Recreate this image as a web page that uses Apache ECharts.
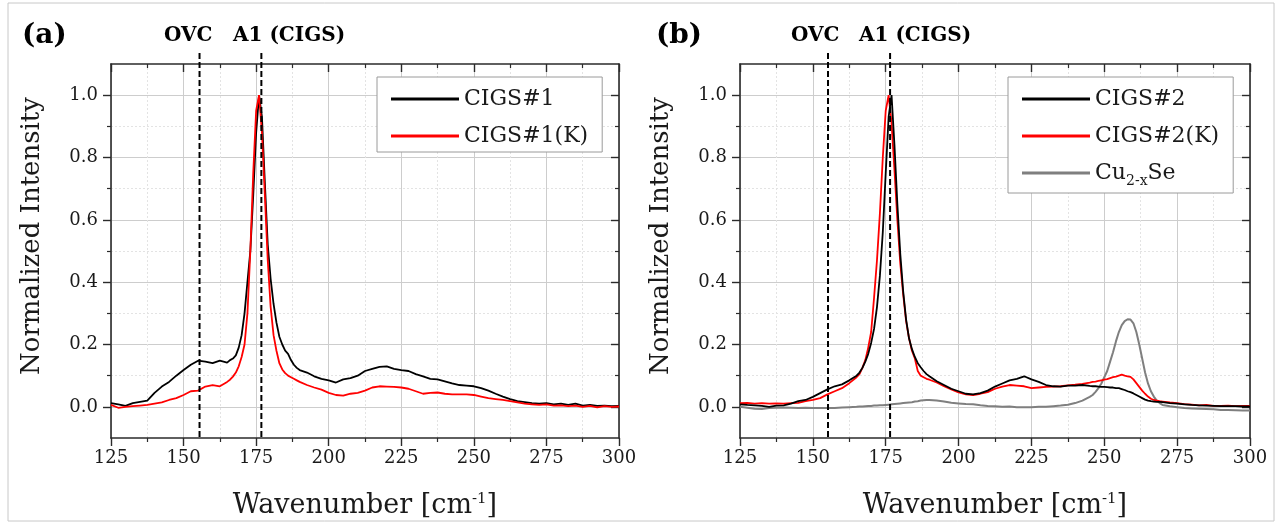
<!DOCTYPE html>
<html><head><meta charset="utf-8">
<script src="https://cdn.jsdelivr.net/npm/echarts@6/dist/echarts.min.js"></script>
<style>html,body{margin:0;padding:0;background:#fff}#c{width:1278px;height:524px}</style>
</head><body><div id="c"></div>
<script>
// ---------- data (panel a) ----------
const xA = [125,127.5,130,132.5,135,137.5,140,142.5,145,147.5,150,152.5,155,157.5,160,162.5,165,
  166,167,168,169,170,171,172,173,174,175,176,177,178,179,180,181,182,183,184,185,186,187,188,189,190,
  192.5,195,197.5,200,202.5,205,207.5,210,212.5,215,217.5,220,222.5,225,227.5,230,232.5,235,237.5,240,
  242.5,245,247.5,250,252.5,255,257.5,260,262.5,265,267.5,270,272.5,275,277.5,280,282.5,285,287.5,290,
  292.5,295,297.5,300];
const cigs1 = [0.012,0.008,0.003,0.012,0.016,0.02,0.045,0.065,0.08,0.1,0.118,0.135,0.148,0.145,0.14,0.148,0.142,
  0.15,0.155,0.165,0.19,0.23,0.30,0.40,0.50,0.68,0.88,1.0,0.93,0.72,0.52,0.41,0.33,0.27,0.225,0.2,0.18,0.17,0.15,0.135,0.125,0.118,
  0.11,0.098,0.09,0.085,0.078,0.088,0.092,0.1,0.115,0.122,0.128,0.13,0.122,0.118,0.115,0.105,0.098,0.09,0.088,0.082,
  0.075,0.07,0.068,0.066,0.06,0.052,0.042,0.033,0.025,0.018,0.015,0.012,0.01,0.012,0.008,0.01,0.006,0.01,0.004,0.006,
  0.003,0.004,0.002,0.003];
const cigs1K = [0.006,-0.003,0.0,0.002,0.004,0.006,0.01,0.014,0.022,0.028,0.038,0.05,0.052,0.065,0.07,0.066,0.08,
  0.087,0.097,0.11,0.13,0.16,0.2,0.3,0.5,0.75,0.95,1.0,0.88,0.68,0.47,0.32,0.23,0.18,0.14,0.12,0.108,0.1,0.095,0.09,0.085,0.08,
  0.07,0.062,0.055,0.045,0.038,0.036,0.042,0.045,0.052,0.062,0.066,0.065,0.064,0.062,0.058,0.05,0.042,0.045,0.046,0.042,
  0.04,0.04,0.04,0.038,0.033,0.028,0.025,0.022,0.018,0.014,0.01,0.008,0.006,0.008,0.004,0.005,0.002,0.004,0.0,0.003,
  -0.002,0.002,0.0,0.001];
// ---------- data (panel b) ----------
const xB = [125,127.5,130,132.5,135,137.5,140,142.5,145,147.5,150,152.5,155,157.5,160,162.5,165,
  166,167,168,169,170,171,172,173,174,175,176,177,178,179,180,181,182,183,184,185,186,187,188,189,190,
  192.5,195,197.5,200,202.5,205,207.5,210,212.5,215,217.5,220,222.5,225,227.5,230,232.5,235,237.5,240,242.5,245,
  246,247,248,249,250,251,252,253,254,255,256,257,258,259,260,261,262,263,264,265,266,267,268,269,270,
  272.5,275,277.5,280,282.5,285,287.5,290,292.5,295,297.5,300];
const cigs2 = [0.008,0.006,0.005,0.003,0.0,0.004,0.005,0.01,0.018,0.022,0.032,0.044,0.056,0.066,0.072,0.085,0.1,
  0.11,0.125,0.145,0.17,0.205,0.25,0.32,0.42,0.56,0.75,0.93,1.0,0.84,0.65,0.49,0.37,0.28,0.22,0.185,0.16,0.14,0.127,0.115,0.105,0.098,
  0.082,0.07,0.058,0.05,0.042,0.04,0.044,0.052,0.065,0.075,0.085,0.09,0.098,0.088,0.08,0.07,0.066,0.065,0.068,0.068,0.07,0.067,
  0.066,0.066,0.065,0.064,0.064,0.063,0.062,0.062,0.06,0.06,0.057,0.054,0.05,0.047,0.043,0.038,0.033,0.028,0.023,0.02,0.018,0.017,0.016,0.016,0.015,
  0.012,0.01,0.008,0.006,0.005,0.004,0.003,0.002,0.002,0.002,0.001,0.001];
const cigs2K = [0.012,0.013,0.01,0.012,0.01,0.011,0.01,0.012,0.013,0.018,0.022,0.028,0.04,0.05,0.06,0.076,0.095,
  0.105,0.125,0.15,0.19,0.24,0.35,0.47,0.62,0.8,0.95,1.0,0.91,0.76,0.6,0.46,0.36,0.275,0.22,0.18,0.155,0.115,0.1,0.095,0.09,0.087,
  0.078,0.066,0.056,0.046,0.04,0.038,0.042,0.047,0.058,0.065,0.07,0.068,0.066,0.06,0.062,0.064,0.065,0.066,0.069,0.071,0.074,0.078,
  0.08,0.081,0.083,0.085,0.087,0.089,0.092,0.095,0.097,0.1,0.103,0.1,0.098,0.096,0.088,0.076,0.064,0.052,0.042,0.033,0.026,0.022,0.02,0.018,0.017,
  0.014,0.012,0.009,0.007,0.005,0.006,0.003,0.003,0.004,0.002,0.003,0.003];
const cu2xSe = [0.0,-0.003,-0.006,-0.007,-0.004,-0.003,-0.002,-0.003,-0.004,-0.003,-0.004,-0.004,-0.004,-0.004,-0.002,-0.001,0.0,
  0.001,0.001,0.002,0.003,0.003,0.004,0.004,0.005,0.005,0.006,0.007,0.008,0.009,0.01,0.011,0.012,0.013,0.014,0.015,0.017,0.018,0.02,0.021,0.022,0.022,
  0.02,0.017,0.013,0.011,0.009,0.008,0.005,0.003,0.002,0.0,0.001,-0.001,-0.001,-0.001,0.0,0.0,0.002,0.004,0.007,0.012,0.02,0.032,
  0.038,0.048,0.06,0.075,0.095,0.115,0.145,0.175,0.21,0.24,0.262,0.275,0.281,0.28,0.268,0.24,0.2,0.155,0.11,0.075,0.05,0.033,0.02,0.012,0.006,
  0.002,-0.001,-0.004,-0.005,-0.006,-0.007,-0.008,-0.01,-0.01,-0.011,-0.012,-0.012];
// ---------- ticks / markers / labels ----------
const yMajor = [0, 0.2, 0.4, 0.6, 0.8, 1.0];
const yMinor = [0.1, 0.3, 0.5, 0.7, 0.9];
const markA = [155.5, 176.8];
const markB = [155.2, 176.5];
const markNames = ['OVC', 'A1 (CIGS)'];
const panelTags = ['(a)', '(b)'];
const namesA = ['CIGS#1', 'CIGS#1(K)'];
const namesB = ['CIGS#2', 'CIGS#2(K)', 'Cu2-xSe'];

const F = 'DejaVu Serif';
const AX = '#2b2b2b';
const chart = echarts.init(document.getElementById('c'), null, {renderer: 'canvas'});

function xAxes(gi) {
  const c = {type: 'value', gridIndex: gi, min: 125, max: 300, interval: 25,
    axisLine: {show: true, onZero: false, lineStyle: {color: AX, width: 1.6}}};
  return [
    Object.assign({}, c, {position: 'bottom',
      axisTick: {show: true, inside: false, length: 8, lineStyle: {color: AX, width: 1.4}},
      minorTick: {show: true, splitNumber: 2, length: 4, lineStyle: {color: AX, width: 1.2}},
      axisLabel: {show: true, fontFamily: F, fontSize: 18, color: '#1a1a1a', margin: 11},
      splitLine: {show: true, lineStyle: {color: '#cdcdcd', width: 1}},
      minorSplitLine: {show: true, lineStyle: {color: '#e3e3e3', width: 1, type: [2, 2]}},
      name: '{n|Wavenumber [cm}{s|-1}{n|]}', nameLocation: 'middle', nameGap: 54,
      nameTextStyle: {rich: {
        n: {fontFamily: F, fontSize: 27, color: '#1a1a1a', lineHeight: 32, verticalAlign: 'top'},
        s: {fontFamily: F, fontSize: 15, color: '#1a1a1a', lineHeight: 16, verticalAlign: 'top'}}}}),
    Object.assign({}, c, {position: 'top',
      axisTick: {show: true, inside: true, length: 8, lineStyle: {color: AX, width: 1.4}},
      minorTick: {show: true, splitNumber: 2, length: 4, lineStyle: {color: AX, width: 1.2}},
      axisLabel: {show: false}, splitLine: {show: false}})
  ];
}
function yAxes(gi) {
  const c = {type: 'value', gridIndex: gi, min: -0.1, max: 1.1, interval: 0.1};
  return [
    Object.assign({}, c, {position: 'left',
      axisLine: {show: true, onZero: false, lineStyle: {color: AX, width: 1.6}},
      axisTick: {show: true, inside: false, length: 8, customValues: yMajor, lineStyle: {color: AX, width: 1.4}},
      axisLabel: {show: true, customValues: yMajor, formatter: v => v.toFixed(1), fontFamily: F, fontSize: 18, color: '#1a1a1a', margin: 13},
      splitLine: {show: true, lineStyle: {color: '#cdcdcd', width: 1}},
      name: 'Normalized Intensity', nameLocation: 'middle', nameGap: 66,
      nameTextStyle: {fontFamily: F, fontSize: 26, color: '#1a1a1a', padding: [0, 0, 0, 30]}}),
    Object.assign({}, c, {position: 'left',
      axisLine: {show: false},
      axisTick: {show: true, inside: false, length: 4, customValues: yMinor, lineStyle: {color: AX, width: 1.2}},
      axisLabel: {show: false},
      splitLine: {show: true, lineStyle: {color: '#e3e3e3', width: 1, type: [2, 2]}}}),
    Object.assign({}, c, {position: 'right',
      axisLine: {show: true, onZero: false, lineStyle: {color: AX, width: 1.6}},
      axisTick: {show: true, inside: true, length: 8, customValues: yMajor, lineStyle: {color: AX, width: 1.4}},
      axisLabel: {show: false}, splitLine: {show: false}}),
    Object.assign({}, c, {position: 'right',
      axisLine: {show: false},
      axisTick: {show: true, inside: true, length: 4, customValues: yMinor, lineStyle: {color: AX, width: 1.2}},
      axisLabel: {show: false}, splitLine: {show: false}})
  ];
}
function line(name, xs, ys, color, gi, w, z) {
  return {type: 'line', name, xAxisIndex: gi * 2, yAxisIndex: gi * 4, data: xs.map((x, i) => [x, ys[i]]),
    showSymbol: false, symbol: 'none', smooth: false, z,
    lineStyle: {color, width: w}, itemStyle: {color}};
}
function legend(names, left) {
  return {data: names, orient: 'vertical', left, top: 77, selectedMode: false,
    icon: 'rect', padding: [11, 14, 5, 14], itemWidth: 68, itemHeight: 3, itemGap: 15,
    borderColor: '#9a9a9a', borderWidth: 1, backgroundColor: '#fff',
    formatter: n => n === 'Cu2-xSe' ? '{n|Cu}{s|2-x}{n|Se}' : n,
    textStyle: {fontFamily: F, fontSize: 22, color: '#1a1a1a', lineHeight: 22,
      rich: {n: {fontFamily: F, fontSize: 22, lineHeight: 22, verticalAlign: 'top', color: '#1a1a1a'},
             s: {fontFamily: F, fontSize: 14, lineHeight: 14, verticalAlign: 'top', padding: [12, 0, 0, 0], color: '#1a1a1a'}}}};
}

const option = {
  animation: false,
  backgroundColor: '#fff',
  grid: [
    {left: 111, top: 64, width: 508, height: 374},
    {left: 740, top: 64, width: 510, height: 374}
  ],
  xAxis: xAxes(0).concat(xAxes(1)),
  yAxis: yAxes(0).concat(yAxes(1)),
  legend: [legend(namesA, 377), legend(namesB, 1008)],
  series: [
    line(namesA[0], xA, cigs1, '#000000', 0, 1.8, 2),
    line(namesA[1], xA, cigs1K, '#ff0000', 0, 1.8, 3),
    line(namesB[2], xB, cu2xSe, '#7f7f7f', 1, 2, 2),
    line(namesB[1], xB, cigs2K, '#ff0000', 1, 1.8, 3),
    line(namesB[0], xB, cigs2, '#000000', 1, 1.8, 4)
  ]
};
chart.setOption(option);

// dashed marker lines, positioned through the axes' own scales
const gfx = [{type: 'rect', shape: {x: 8, y: 3, width: 1266, height: 518}, style: {fill: 'none', stroke: '#c8c8c8', lineWidth: 1}, silent: true, z: 0}];
[[markA, 0], [markB, 1]].forEach(([marks, gi]) => {
  const yb = chart.convertToPixel({yAxisIndex: gi * 4}, -0.1);
  marks.forEach(m => {
    const px = chart.convertToPixel({xAxisIndex: gi * 2}, m);
    gfx.push({type: 'line', shape: {x1: px, y1: 53, x2: px, y2: yb}, z: 50,
      style: {stroke: '#000', lineWidth: 2, lineDash: [6, 3]}, silent: true});
  });
});
const tagPos = [[22, 22, 164, 233], [656, 22, 791, 859]];
tagPos.forEach((p, i) => {
  gfx.push({type: 'text', left: p[0], top: p[1], z: 60, style: {text: panelTags[i], font: 'bold 28px "DejaVu Serif"', fill: '#000'}});
  gfx.push({type: 'text', left: p[2], top: 26, z: 60, style: {text: markNames[0], font: 'bold 20px "DejaVu Serif"', fill: '#000'}});
  gfx.push({type: 'text', left: p[3], top: 26, z: 60, style: {text: markNames[1], font: 'bold 20px "DejaVu Serif"', fill: '#000'}});
});
chart.setOption({graphic: gfx});
</script></body></html>
